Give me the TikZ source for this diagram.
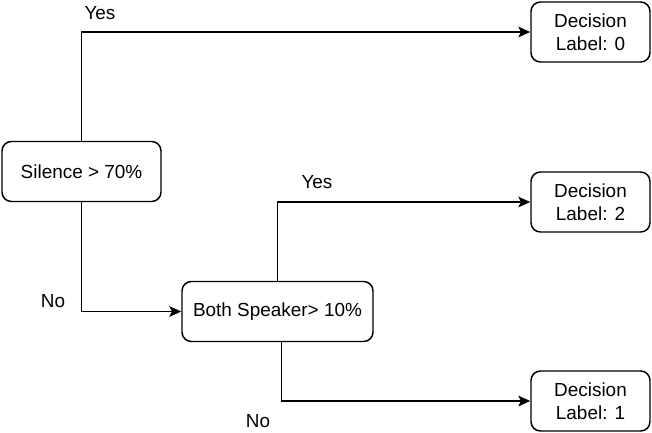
\documentclass[tikz,border=0pt]{standalone}
\usepackage{fontspec}
\setmainfont{Liberation Sans}
\usetikzlibrary{calc, arrows.meta}

\begin{document}
\begin{tikzpicture}[x=0.75pt,y=-0.75pt,
    box/.style={draw, line width=1.1pt, rounded corners=7pt, align=center,
      font=\fontsize{14.2}{17.2}\selectfont, inner sep=0pt},
    lbl/.style={font=\fontsize{14.2}{17.2}\selectfont, inner sep=0pt},
    flow/.style={line width=1.1pt, -{Stealth[length=9pt,width=8pt,inset=2pt]}}]
    \useasboundingbox (0,0) rectangle (652,432);
    \node[box, minimum width=119.25pt, minimum height=45pt] (silence) at (81.5,171.5) {Silence > 70\%};
    \node[box, minimum width=143.25pt, minimum height=45pt] (both) at (277.5,311.5) {Both Speaker> 10\%};
    \node[box, minimum width=89.25pt, minimum height=45pt] (dec0) at (590.5,32) {Decision\\Label: 0};
    \node[box, minimum width=89.25pt, minimum height=45pt] (dec2) at (590.5,202) {Decision\\Label: 2};
    \node[box, minimum width=89.25pt, minimum height=45pt] (dec1) at (590.5,401) {Decision\\Label: 1};
    % branch labels
    \node[lbl] (yes1) at (100,13) {Yes};
    \node[lbl] (no1) at (53,301) {No};
    \node[lbl] (yes2) at (317,182) {Yes};
    \node[lbl] (no2) at (258,421) {No};
    % connectors
    \draw[flow] (silence.north) |- (dec0.west);
    \draw[flow] (silence.south) |- (both.west);
    \draw[flow] (both.north) |- (dec2.west);
    \draw[flow] ([xshift=3pt]both.south) |- (dec1.west);
\end{tikzpicture}
\end{document}
